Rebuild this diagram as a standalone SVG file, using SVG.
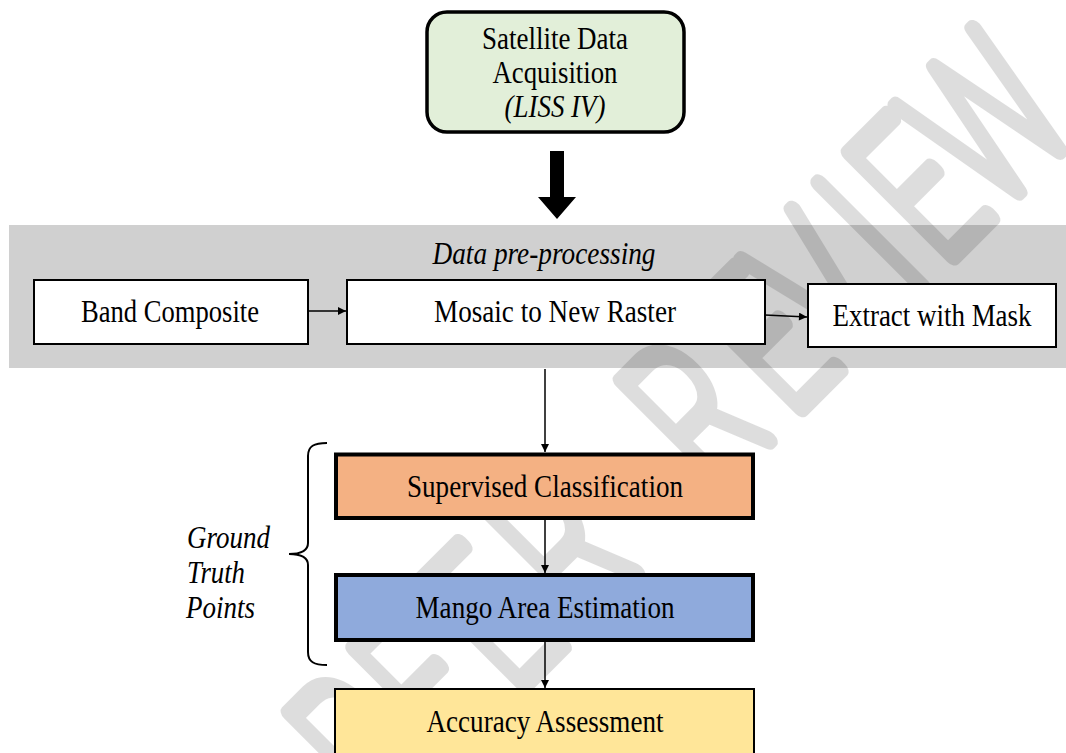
<svg xmlns="http://www.w3.org/2000/svg" width="1066" height="753" viewBox="0 0 1066 753">
  <defs>
    <marker id="ah" viewBox="0 0 10 10" refX="10" refY="5" markerUnits="userSpaceOnUse" markerWidth="9" markerHeight="8" orient="auto">
      <path d="M0,0 L10,5 L0,10 z" fill="#000"/>
    </marker>
    <style>
      .t { font-family: "Liberation Serif", "Times New Roman", serif; font-size: 31px; fill: #000; text-anchor: middle; }
      .i { font-style: italic; }
      .box { stroke: #000; }
      .conn { stroke: #000; stroke-width: 1.5; fill: none; }
    </style>
  </defs>
  <rect width="1066" height="753" fill="#fff"/>

  <!-- grey pre-processing band -->
  <g id="preprocessing">
    <rect x="9" y="225" width="1057" height="143" fill="#d0d0d0"/>
  </g>

  <!-- watermark -->
  <g id="watermark" opacity="0.13" fill="#000" stroke="#000" stroke-width="16" stroke-linejoin="round" stroke-linecap="round">
    <text transform="rotate(-45) scale(0.65,1)" y="855" x="-483 -343 -197 -48 111 240 405 518 665 735 851" font-family="Roboto, Liberation Sans, sans-serif" font-weight="100" font-size="205" vector-effect="non-scaling-stroke">PEER REVIEW</text>
  </g>

  <g id="n-satellite">
    <rect class="box" x="427" y="12" width="257" height="120" rx="20" fill="#e2efd9" stroke-width="3.5"/>
    <text class="t" x="555" y="49" textLength="146" lengthAdjust="spacingAndGlyphs">Satellite Data</text>
    <text class="t" x="555" y="83" textLength="125" lengthAdjust="spacingAndGlyphs">Acquisition</text>
    <text class="t i" x="555" y="117" textLength="101" lengthAdjust="spacingAndGlyphs">(LISS IV)</text>
  </g>

  <g id="label-preprocessing">
    <text class="t i" x="544" y="264" textLength="223" lengthAdjust="spacingAndGlyphs">Data pre-processing</text>
  </g>

  <g id="n-band">
    <rect class="box" x="34" y="280" width="274" height="64" fill="#fff" stroke-width="2"/>
    <text class="t" x="170" y="322" textLength="178" lengthAdjust="spacingAndGlyphs">Band Composite</text>
  </g>

  <g id="n-mosaic">
    <rect class="box" x="347" y="280" width="418" height="64" fill="#fff" stroke-width="2"/>
    <text class="t" x="555" y="322" textLength="242" lengthAdjust="spacingAndGlyphs">Mosaic to New Raster</text>
  </g>

  <g id="n-extract">
    <rect class="box" x="808" y="284" width="248" height="63" fill="#fff" stroke-width="2"/>
    <text class="t" x="932" y="326" textLength="199" lengthAdjust="spacingAndGlyphs">Extract with Mask</text>
  </g>

  <g id="n-supervised">
    <rect class="box" x="336" y="454.5" width="417" height="63.5" fill="#f4b183" stroke-width="4"/>
    <text class="t" x="545" y="497" textLength="276" lengthAdjust="spacingAndGlyphs">Supervised Classification</text>
  </g>

  <g id="n-mango">
    <rect class="box" x="336" y="575" width="417" height="65" fill="#8faadc" stroke-width="4"/>
    <text class="t" x="545" y="618" textLength="259" lengthAdjust="spacingAndGlyphs">Mango Area Estimation</text>
  </g>

  <g id="n-accuracy">
    <rect class="box" x="335" y="689" width="419" height="90" fill="#ffe699" stroke-width="2"/>
    <text class="t" x="545" y="732" textLength="237" lengthAdjust="spacingAndGlyphs">Accuracy Assessment</text>
  </g>

  <g id="n-ground-truth">
    <path d="M327,443 C314,443 308,446 308,456 L308,543 C308,550 302,554 289,554 C302,554 308,558 308,565 L308,652 C308,662 314,665 327,665" fill="none" stroke="#000" stroke-width="2"/>
    <text class="t i" x="187" y="548" style="text-anchor:start" textLength="83" lengthAdjust="spacingAndGlyphs">Ground</text>
    <text class="t i" x="187" y="583" style="text-anchor:start" textLength="58" lengthAdjust="spacingAndGlyphs">Truth</text>
    <text class="t i" x="186" y="618" style="text-anchor:start" textLength="69" lengthAdjust="spacingAndGlyphs">Points</text>
  </g>

  <g id="connectors">
    <path d="M550,151 L564,151 L564,197 L576,197 L557,219 L538,197 L550,197 z" fill="#000"/>
    <line class="conn" x1="308" y1="311" x2="346" y2="311" marker-end="url(#ah)"/>
    <line class="conn" x1="765" y1="315" x2="807" y2="317" marker-end="url(#ah)"/>
    <line class="conn" x1="545" y1="369" x2="545" y2="452" marker-end="url(#ah)"/>
    <line class="conn" x1="545" y1="520" x2="545" y2="573" marker-end="url(#ah)"/>
    <line class="conn" x1="545" y1="642" x2="545" y2="688" marker-end="url(#ah)"/>
  </g>
</svg>
